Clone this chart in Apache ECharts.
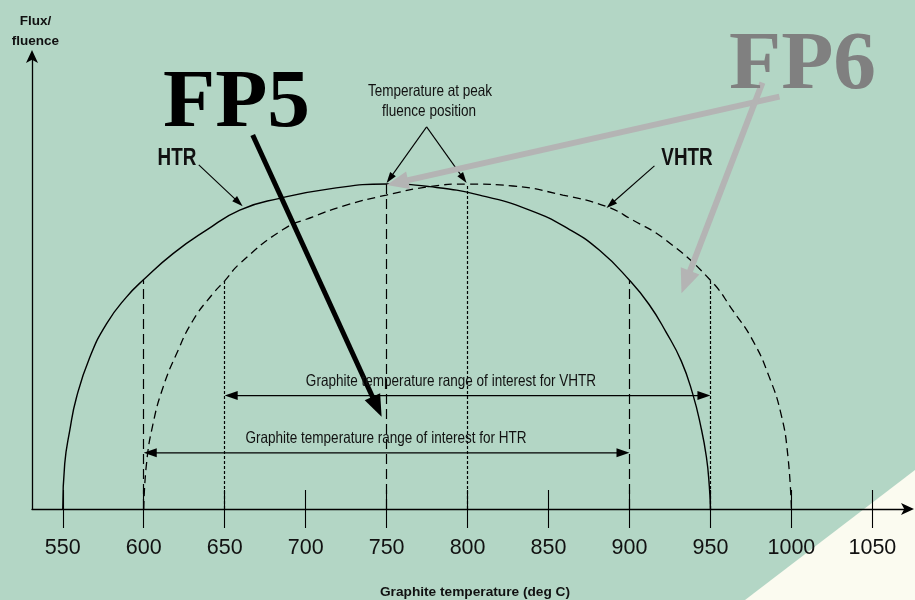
<!DOCTYPE html>
<html>
<head>
<meta charset="utf-8">
<script src="https://cdn.jsdelivr.net/npm/echarts@6/dist/echarts.min.js"></script>
<style>
  html, body { margin: 0; padding: 0; background: #b3d6c5; }
  #main { width: 915px; height: 600px; }
</style>
</head>
<body>
<div id="main"></div>
<script>
const SANS = "'Liberation Sans', Arial, sans-serif";
const SERIF = "'Liberation Serif', 'Times New Roman', serif";
const NARROW = 0.82; // the picture uses a condensed sans face

// x axis ticks / labels (deg C)
const tickTemps = [550, 600, 650, 700, 750, 800, 850, 900, 950, 1000, 1050];

// HTR curve (solid): temperature vs relative flux (peak = 100)
const htrTemp = [550, 551.2, 554.3, 558.5, 566.7, 577, 589.3, 600, 618.1, 638.7, 659.3, 684, 714.8, 750,
  776.5, 807.4, 838.3, 863, 881.5, 900, 912, 922.5, 932, 939, 944, 947.5, 949.3, 950];
const htrFlux = [0, 13.9, 24.1, 34.4, 46.7, 57, 65.2, 70.6, 78.6, 85.8, 92, 95.6, 98.5, 100,
  99.2, 96.6, 92, 86, 79.6, 70.4, 63, 54.5, 45.5, 35.5, 25.5, 16, 7, 0];

// VHTR curve (dashed)
const vhtrTemp = [600, 601.7, 605.7, 611.9, 620.2, 630.4, 642.8, 650, 659.3, 686, 704.5, 725.1, 749.8,
  776.5, 800, 828, 858.8, 885.6, 902, 922.6, 950, 963.8, 976.1, 986.4, 993.6, 997.7, 1000];
const vhtrFlux = [0, 13.9, 26.1, 37.4, 47.7, 58, 66.3, 70.2, 75.5, 86, 89.9, 93.5, 96.6,
  99.2, 100, 99.4, 96.6, 93.1, 88.9, 82.7, 70.4, 61.1, 51.9, 40.5, 29.2, 16.9, 0];

// vertical reference lines (temperature, top of line)
const htrRefTemp = [600, 750, 900];
const htrRefTop = [70.6, 100, 70.4];
const vhtrRefTemp = [650, 800, 950];
const vhtrRefTop = [70.2, 100, 70.4];

// ranges of interest
const htrRange = [600, 900];
const htrRangeLevel = 17.3;
const vhtrRange = [650, 950];
const vhtrRangeLevel = 34.9;

const X_MIN = 531, X_MAX = 1072, Y_MAX = 139.4;
const GRID = { left: 32, right: 7, top: 56, bottom: 91 };

const chart = echarts.init(document.getElementById('main'), null, { renderer: 'canvas' });

function vLines(temps, tops) {
  return temps.map((t, i) => [{ coord: [t, 0] }, { coord: [t, tops[i]] }]);
}

chart.setOption({
  animation: false,
  backgroundColor: '#b3d6c5',
  grid: Object.assign({ containLabel: false, outerBoundsMode: 'none' }, GRID),
  xAxis: [
    {
      type: 'value', min: X_MIN, max: X_MAX, position: 'bottom',
      name: 'Graphite temperature (deg C)', nameLocation: 'middle', nameGap: 76,
      nameTextStyle: { fontFamily: SANS, fontWeight: 'bold', fontSize: 13.7, color: '#111', padding: [0, 0, 0, 10] },
      axisLine: { show: true, onZero: false, symbol: ['none', 'arrow'], symbolSize: [9, 13], symbolOffset: [0, 6],
        lineStyle: { color: '#000', width: 1.3 } },
      axisTick: { show: true, inside: false, length: 19, customValues: tickTemps, lineStyle: { color: '#000', width: 1.1 } },
      axisLabel: { show: true, customValues: tickTemps, margin: 28, fontFamily: SANS, fontSize: 21.5, color: '#111',
        formatter: (v) => String(v) },
      splitLine: { show: false }
    },
    {
      // second axis only for the tick halves above the line, moved down onto the bottom line
      type: 'value', min: X_MIN, max: X_MAX, position: 'top',
      offset: -(600 - GRID.top - GRID.bottom),
      axisLine: { show: false, onZero: false },
      axisTick: { show: true, length: 19, customValues: tickTemps, lineStyle: { color: '#000', width: 1.1 } },
      axisLabel: { show: false },
      splitLine: { show: false }
    }
  ],
  yAxis: {
    type: 'value', min: 0, max: Y_MAX,
    name: 'Flux/\nfluence', nameLocation: 'end', nameGap: 5,
    nameTextStyle: { fontFamily: SANS, fontWeight: 'bold', fontSize: 13.5, lineHeight: 20, color: '#111', padding: [0, 0, 0, 7] },
    axisLine: { show: true, onZero: false, symbol: ['none', 'arrow'], symbolSize: [9, 13], symbolOffset: [0, 6],
      lineStyle: { color: '#000', width: 1.3 } },
    axisTick: { show: false },
    axisLabel: { show: false },
    splitLine: { show: false }
  },
  series: [
    {
      name: 'HTR', type: 'line', xAxisIndex: 0,
      data: htrTemp.map((t, i) => [t, htrFlux[i]]),
      smooth: 0.5, showSymbol: false, silent: true,
      lineStyle: { color: '#000', width: 1.4 },
      markLine: {
        silent: true, symbol: ['none', 'none'], label: { show: false },
        lineStyle: { color: '#000', width: 1.2, type: [10, 5] },
        data: vLines(htrRefTemp, htrRefTop)
      }
    },
    {
      name: 'VHTR', type: 'line', xAxisIndex: 0,
      data: vhtrTemp.map((t, i) => [t, vhtrFlux[i]]),
      smooth: 0.5, showSymbol: false, silent: true,
      lineStyle: { color: '#000', width: 1.3, type: [8, 5] },
      markLine: {
        silent: true, symbol: ['none', 'none'], label: { show: false },
        lineStyle: { color: '#000', width: 1.2, type: [3, 2] },
        data: vLines(vhtrRefTemp, vhtrRefTop)
      }
    }
  ]
});

// ---- annotations (arrows in data coords, converted to pixels) ----
function px(p) { return chart.convertToPixel({ xAxisIndex: 0, yAxisIndex: 0 }, p); }

function head(tip, ux, uy, w, l, color) {
  const bx = tip[0] - ux * l, by = tip[1] - uy * l;
  return {
    type: 'polygon', z: 100,
    shape: { points: [[tip[0], tip[1]], [bx - uy * w / 2, by + ux * w / 2], [bx + uy * w / 2, by - ux * w / 2]] },
    style: { fill: color }
  };
}

function arrow(from, to, width, w, l, color, both) {
  const a = px(from), b = px(to);
  const dx = b[0] - a[0], dy = b[1] - a[1];
  const len = Math.hypot(dx, dy), ux = dx / len, uy = dy / len;
  const s = both ? [a[0] + ux * l * 0.8, a[1] + uy * l * 0.8] : a;
  const e = [b[0] - ux * l * 0.8, b[1] - uy * l * 0.8];
  const out = [{
    type: 'line', z: 99,
    shape: { x1: s[0], y1: s[1], x2: e[0], y2: e[1] },
    style: { stroke: color, lineWidth: width }
  }, head(b, ux, uy, w, l, color)];
  if (both) out.push(head(a, -ux, -uy, w, l, color));
  return out;
}

function text(x, y, str, font, color, scaleX) {
  return {
    type: 'text', x: x, y: y, z: 101, scaleX: scaleX || NARROW,
    style: Object.assign({ text: str, fill: color || '#111', align: 'center', verticalAlign: 'middle' }, font)
  };
}

const graphics = [
  // page curl in the lower right corner
  { type: 'polygon', z: -10, shape: { points: [[915, 470], [915, 600], [745, 600]] }, style: { fill: '#fbfbf0' } },

  ...arrow([vhtrRange[0], vhtrRangeLevel], [vhtrRange[1], vhtrRangeLevel], 1.2, 9, 13, '#000', true),
  ...arrow([htrRange[0], htrRangeLevel], [htrRange[1], htrRangeLevel], 1.2, 9, 13, '#000', true),

  ...arrow([634, 105.9], [661.1, 93.2], 1.1, 7, 11, '#000'),
  ...arrow([915.4, 105.6], [885.8, 92.6], 1.1, 7, 11, '#000'),
  ...arrow([774.7, 117.6], [750, 100.3], 1.1, 7, 11, '#000'),
  ...arrow([774.7, 117.6], [799.4, 100.3], 1.1, 7, 11, '#000'),

  ...arrow([992.6, 126.9], [750, 99.7], 6, 18, 22, '#b4b4b4'),
  ...arrow([982.1, 131.2], [932.1, 66.4], 6, 20, 24, '#b4b4b4'),
  ...arrow([667.3, 115.1], [746.9, 28.4], 5, 17, 22, '#000'),

  text(451, 381, 'Graphite temperature range of interest for VHTR', { fontFamily: SANS, fontSize: 16.5 }),
  text(386, 438, 'Graphite temperature range of interest for HTR', { fontFamily: SANS, fontSize: 16.5 }),
  text(430, 91, 'Temperature at peak', { fontFamily: SANS, fontSize: 16.5 }),
  text(429, 111, 'fluence position', { fontFamily: SANS, fontSize: 16.5 }),
  text(177, 158.5, 'HTR', { fontFamily: SANS, fontSize: 23, fontWeight: 'bold' }),
  text(687, 158.5, 'VHTR', { fontFamily: SANS, fontSize: 23, fontWeight: 'bold' }),
  text(236.5, 105, 'FP5', { fontFamily: SERIF, fontSize: 83, fontWeight: 'bold' }, '#000', 1.03),
  text(802.5, 66.5, 'FP6', { fontFamily: SERIF, fontSize: 83, fontWeight: 'bold' }, '#808080', 1.03)
];

chart.setOption({ graphic: graphics });
</script>
</body>
</html>
